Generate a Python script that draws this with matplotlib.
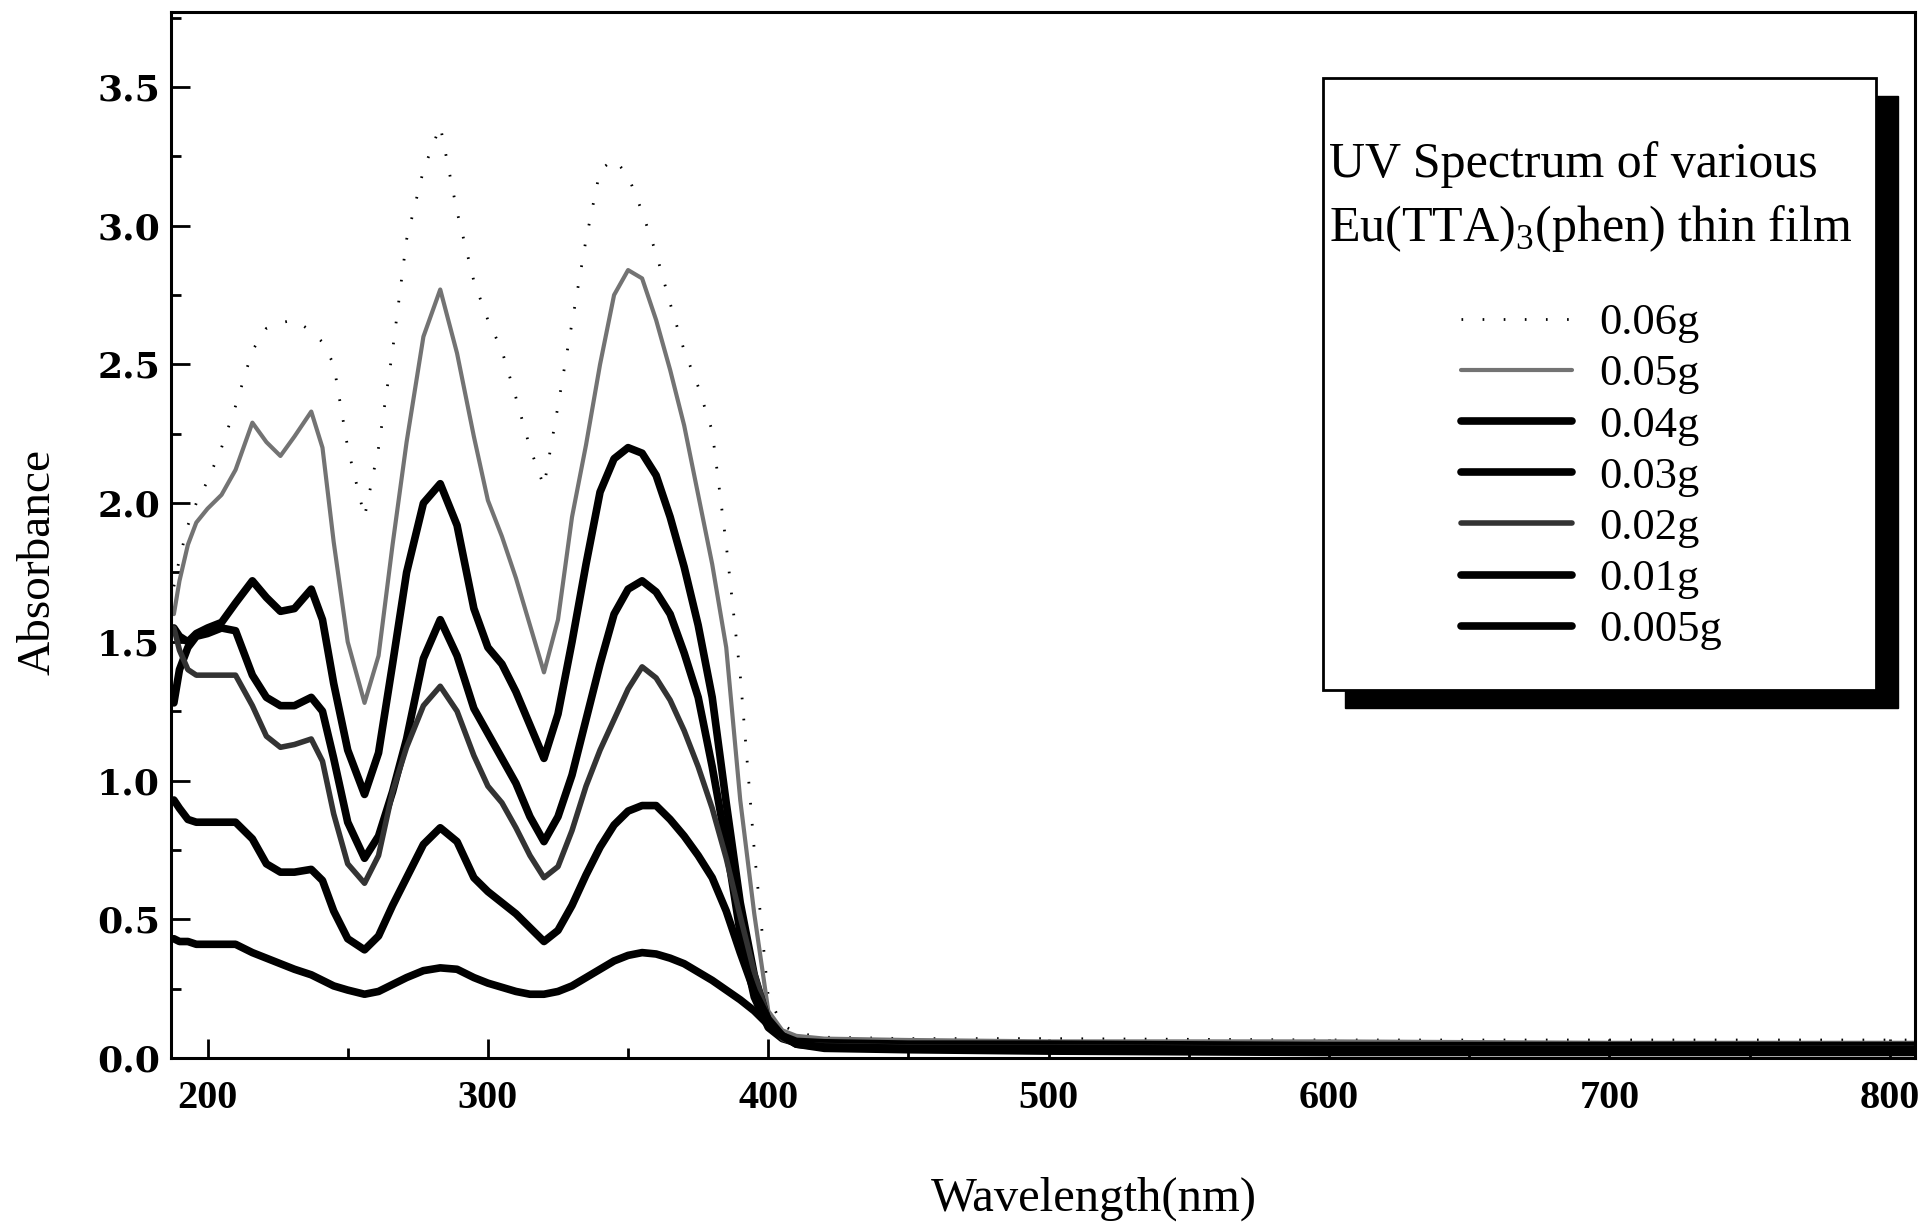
import matplotlib
matplotlib.use("Agg")
import matplotlib.pyplot as plt
from matplotlib.patches import Rectangle
from matplotlib.ticker import MultipleLocator, FormatStrFormatter
from matplotlib.font_manager import FontProperties

plt.rcParams["mathtext.fontset"] = "custom"
plt.rcParams["mathtext.rm"] = "Liberation Serif"

# wavelength grid (nm)
wl = [188, 190, 193, 196, 200, 205, 210, 216, 221, 226,
      231, 237, 241, 245, 250, 256, 261, 266, 271, 277,
      283, 289, 295, 300, 305, 310, 315, 320, 325, 330,
      335, 340, 345, 350, 355, 360, 365, 370, 375, 380,
      385, 390, 395, 400, 405, 410, 420, 450, 500, 600,
      700, 800, 809]

a_006 = [1.70, 1.80, 1.92, 2.00, 2.08, 2.20, 2.35, 2.55, 2.63, 2.65,
         2.66, 2.62, 2.58, 2.50, 2.20, 1.95, 2.20, 2.55, 2.95, 3.20,
         3.36, 3.05, 2.80, 2.66, 2.55, 2.38, 2.20, 2.06, 2.35, 2.65,
         2.95, 3.20, 3.24, 3.18, 3.05, 2.90, 2.72, 2.55, 2.42, 2.26,
         1.85, 1.38, 0.75, 0.22, 0.12, 0.09, 0.075, 0.07, 0.07, 0.065,
         0.065, 0.065, 0.065]

a_005 = [1.60, 1.72, 1.85, 1.93, 1.98, 2.03, 2.12, 2.29, 2.22, 2.17,
         2.24, 2.33, 2.20, 1.86, 1.50, 1.28, 1.45, 1.85, 2.22, 2.60,
         2.77, 2.54, 2.24, 2.01, 1.88, 1.73, 1.56, 1.39, 1.58, 1.95,
         2.21, 2.50, 2.75, 2.84, 2.81, 2.66, 2.48, 2.28, 2.03, 1.78,
         1.48, 0.93, 0.52, 0.17, 0.10, 0.08, 0.07, 0.065, 0.06, 0.06,
         0.055, 0.055, 0.055]

a_004 = [1.55, 1.52, 1.50, 1.53, 1.55, 1.57, 1.64, 1.72, 1.66, 1.61,
         1.62, 1.69, 1.58, 1.35, 1.11, 0.95, 1.10, 1.42, 1.75, 2.00,
         2.07, 1.92, 1.62, 1.48, 1.42, 1.32, 1.20, 1.08, 1.24, 1.50,
         1.78, 2.04, 2.16, 2.20, 2.18, 2.10, 1.95, 1.77, 1.56, 1.30,
         0.92, 0.56, 0.30, 0.13, 0.08, 0.06, 0.055, 0.05, 0.05, 0.045,
         0.045, 0.045, 0.045]

a_003 = [1.28, 1.40, 1.48, 1.52, 1.53, 1.55, 1.54, 1.38, 1.30, 1.27,
         1.27, 1.30, 1.25, 1.08, 0.85, 0.72, 0.80, 0.96, 1.15, 1.44,
         1.58, 1.45, 1.26, 1.17, 1.08, 0.99, 0.87, 0.78, 0.87, 1.02,
         1.22, 1.42, 1.60, 1.69, 1.72, 1.68, 1.60, 1.46, 1.30, 1.05,
         0.77, 0.45, 0.22, 0.11, 0.07, 0.055, 0.05, 0.045, 0.045, 0.04,
         0.04, 0.04, 0.04]

a_002 = [1.55, 1.47, 1.40, 1.38, 1.38, 1.38, 1.38, 1.27, 1.16, 1.12,
         1.13, 1.15, 1.07, 0.88, 0.70, 0.63, 0.73, 0.96, 1.12, 1.27,
         1.34, 1.25, 1.09, 0.98, 0.92, 0.83, 0.73, 0.65, 0.69, 0.82,
         0.98, 1.11, 1.22, 1.33, 1.41, 1.37, 1.29, 1.18, 1.05, 0.90,
         0.72, 0.51, 0.31, 0.14, 0.07, 0.05, 0.045, 0.04, 0.04, 0.035,
         0.035, 0.035, 0.035]

a_001 = [0.93, 0.90, 0.86, 0.85, 0.85, 0.85, 0.85, 0.79, 0.70, 0.67,
         0.67, 0.68, 0.64, 0.53, 0.43, 0.39, 0.44, 0.55, 0.65, 0.77,
         0.83, 0.78, 0.65, 0.60, 0.56, 0.52, 0.47, 0.42, 0.46, 0.55,
         0.66, 0.76, 0.84, 0.89, 0.91, 0.91, 0.86, 0.80, 0.73, 0.65,
         0.53, 0.38, 0.24, 0.14, 0.08, 0.05, 0.04, 0.035, 0.035, 0.03,
         0.03, 0.03, 0.03]

a_0005 = [0.43, 0.42, 0.42, 0.41, 0.41, 0.41, 0.41, 0.38, 0.36, 0.34,
          0.32, 0.30, 0.28, 0.26, 0.245, 0.23, 0.24, 0.265, 0.29, 0.315,
          0.325, 0.32, 0.29, 0.27, 0.255, 0.24, 0.23, 0.23, 0.24, 0.26,
          0.29, 0.32, 0.35, 0.37, 0.38, 0.375, 0.36, 0.34, 0.31, 0.28,
          0.245, 0.21, 0.17, 0.12, 0.08, 0.05, 0.035, 0.03, 0.025, 0.02,
          0.02, 0.02, 0.02]

labels = ["0.06g", "0.05g", "0.04g", "0.03g", "0.02g", "0.01g", "0.005g"]
series = [a_006, a_005, a_004, a_003, a_002, a_001, a_0005]

fig = plt.figure(figsize=(19.33, 12.28), dpi=100)
ax = fig.add_axes([0.0885, 0.1384, 0.9022, 0.8518])

styles = [
    dict(color="black", lw=2.0, linestyle=(0, (0.6, 7))),
    dict(color="0.45", lw=3.0),
    dict(color="black", lw=5.5),
    dict(color="black", lw=5.5),
    dict(color="0.2", lw=4.0),
    dict(color="black", lw=5.5),
    dict(color="black", lw=5.5),
]

handles = []
for vals, lab, st in zip(series, labels, styles):
    h, = ax.plot(wl, vals, label=lab, solid_capstyle="round", **st)
    handles.append(h)

ax.set_xlim(187, 809)
ax.set_ylim(0, 3.77)

ax.set_xticks([200, 300, 400, 500, 600, 700, 800])
ax.xaxis.set_minor_locator(MultipleLocator(50))
ax.yaxis.set_major_locator(MultipleLocator(0.5))
ax.yaxis.set_minor_locator(MultipleLocator(0.25))
ax.yaxis.set_major_formatter(FormatStrFormatter("%.1f"))

ax.tick_params(which="both", direction="in", top=False, right=False, width=2)
ax.tick_params(which="major", length=14)
ax.tick_params(which="minor", length=7)
ax.tick_params(axis="y", pad=8)
ax.tick_params(axis="x", pad=16)

for t in ax.get_yticklabels():
    t.set_fontfamily("DejaVu Serif")
    t.set_fontweight("bold")
    t.set_fontsize(26)
for t in ax.get_xticklabels():
    t.set_fontfamily("Liberation Serif")
    t.set_fontweight("bold")
    t.set_fontsize(29)

for sp in ax.spines.values():
    sp.set_linewidth(2.2)

ax.set_ylabel("Absorbance", fontfamily="Liberation Serif", fontsize=34)
ax.set_xlabel("Wavelength(nm)", fontfamily="Liberation Serif", fontsize=35)
ax.yaxis.set_label_coords(-0.064, 0.474)
ax.xaxis.set_label_coords(0.529, -0.113)

# legend box with black drop shadow
bx, by, bw, bh = 0.6606, 0.3518, 0.317, 0.5851
ax.add_patch(Rectangle((bx + 0.0126, by - 0.0172), bw, bh, transform=ax.transAxes,
                       facecolor="black", edgecolor="black", zorder=3.9, clip_on=False))
ax.add_patch(Rectangle((bx, by), bw, bh, transform=ax.transAxes,
                       facecolor="white", edgecolor="black", lw=2, zorder=4, clip_on=False))

ax.text(0.664, 0.8547, "UV Spectrum of various", transform=ax.transAxes,
        fontfamily="Liberation Serif", fontsize=36, ha="left", va="center", zorder=6)
ax.text(0.664, 0.7935, "Eu(TTA)$_3$(phen) thin film", transform=ax.transAxes,
        fontfamily="Liberation Serif", fontsize=36, ha="left", va="center", zorder=6)

leg = ax.legend(handles, labels, loc="upper left", bbox_to_anchor=(0.7397, 0.7218),
                frameon=False, prop=FontProperties(family="Liberation Serif", size=32),
                handlelength=2.5, handletextpad=0.6, labelspacing=0.25,
                borderpad=0, borderaxespad=0)
leg.set_zorder(6)

fig.savefig("out.png", dpi=100)
